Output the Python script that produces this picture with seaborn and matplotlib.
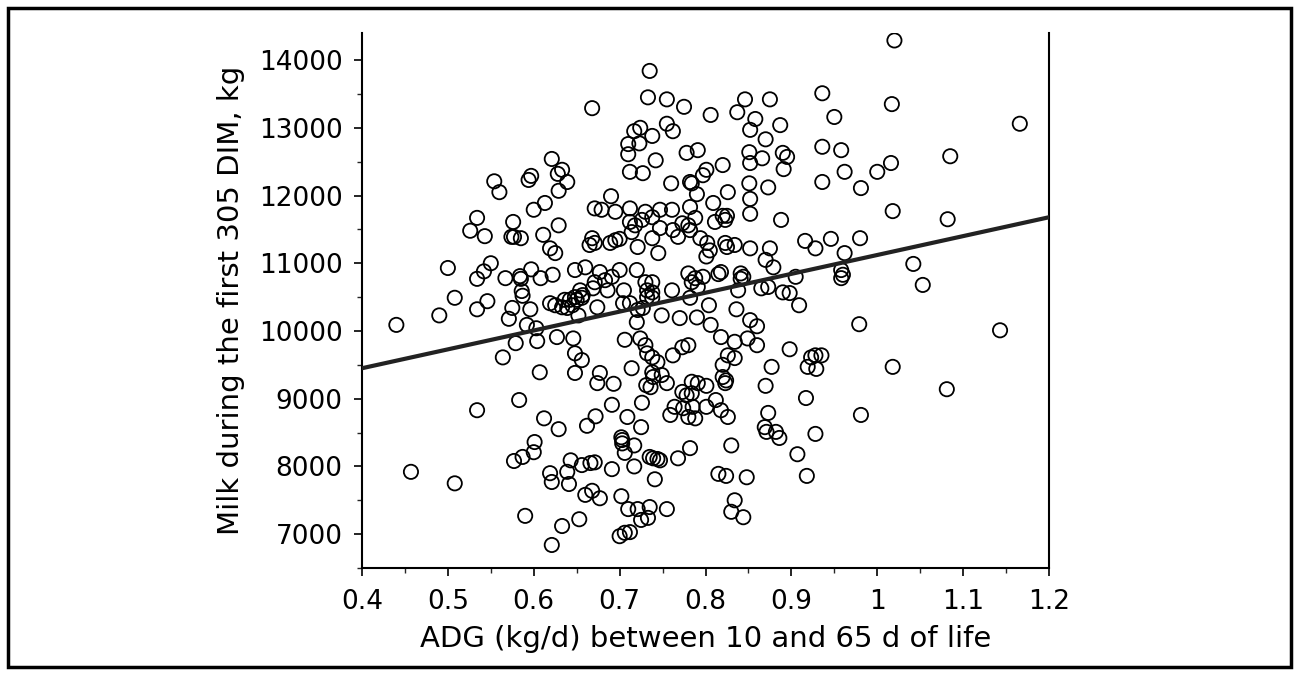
import numpy as np
import pandas as pd
import matplotlib
matplotlib.use("Agg")
import matplotlib.pyplot as plt
from matplotlib.ticker import MultipleLocator
from matplotlib.patches import Rectangle
import seaborn as sns

# ADG (kg/d) between 10 and 65 d of life
adg = [
    0.440, 0.457, 0.490, 0.500, 0.508, 0.508, 0.534, 0.526, 0.543, 0.550,
    0.542, 0.534, 0.546, 0.534, 0.534, 0.554, 0.560, 0.576, 0.574, 0.577,
    0.585, 0.567, 0.584, 0.585, 0.597, 0.608, 0.586, 0.587, 0.575, 0.596,
    0.571, 0.592, 0.603, 0.579, 0.604, 0.564, 0.607, 0.583, 0.612, 0.601,
    0.600, 0.587, 0.577, 0.590, 0.594, 0.597, 0.600,
    0.735, 0.733, 0.755, 0.775, 0.806, 0.668, 0.717, 0.724, 0.738, 0.755,
    0.762, 0.710, 0.723, 0.710, 0.742, 0.778, 0.791, 0.621, 0.633, 0.628,
    0.639, 0.629, 0.613, 0.712, 0.727, 0.760, 0.782, 0.784, 0.797, 0.801,
    0.790, 0.809, 0.690, 0.671, 0.679, 0.712, 0.695, 0.730, 0.747, 0.761,
    0.782,
    0.936, 0.846, 0.875, 0.837, 0.858, 0.852, 0.887, 0.950, 0.870, 0.936,
    0.958, 0.851, 0.866, 0.890, 0.895, 0.852, 0.891, 0.820, 0.962, 1.000,
    1.016, 0.851, 0.873, 0.936, 0.981, 0.826, 0.852, 0.825, 0.852, 0.888,
    1.017, 1.020, 1.166, 1.085, 1.018, 1.082,
    0.629, 0.611, 0.668, 0.671, 0.665, 0.689, 0.695, 0.700, 0.712, 0.718,
    0.726, 0.738, 0.747, 0.714, 0.721, 0.738, 0.745, 0.762, 0.768, 0.773,
    0.780, 0.782, 0.788, 0.794, 0.802, 0.805, 0.801, 0.619, 0.625, 0.622,
    0.648, 0.660, 0.677, 0.683, 0.671, 0.691, 0.700, 0.720, 0.730, 0.738,
    0.732, 0.738, 0.705, 0.686, 0.669, 0.654, 0.657, 0.648, 0.642, 0.761,
    0.780, 0.788, 0.797, 0.784, 0.791, 0.782, 0.804, 0.619, 0.625, 0.633,
    0.639, 0.645, 0.636, 0.650, 0.656, 0.674, 0.704, 0.712, 0.732, 0.738,
    0.721, 0.727, 0.652, 0.720, 0.749, 0.770, 0.790, 0.806, 0.627, 0.646,
    0.648, 0.656, 0.706, 0.724, 0.730, 0.732, 0.738, 0.744, 0.773, 0.780,
    0.762, 0.648, 0.677, 0.674, 0.693, 0.714, 0.738, 0.739, 0.749, 0.755,
    0.731, 0.736, 0.784, 0.791, 0.801,
    0.773, 0.778, 0.784, 0.764, 0.759, 0.774, 0.785, 0.780, 0.788, 0.801,
    0.629, 0.662, 0.672, 0.691, 0.709, 0.726, 0.725, 0.702, 0.703, 0.703,
    0.706, 0.717, 0.643, 0.639, 0.656, 0.666, 0.671, 0.691, 0.717, 0.735,
    0.739, 0.744, 0.747, 0.741, 0.619, 0.621, 0.641, 0.768, 0.782, 0.660,
    0.668, 0.677, 0.702, 0.710, 0.721, 0.735, 0.755, 0.725, 0.733, 0.633,
    0.653, 0.700, 0.706, 0.712, 0.621,
    0.811, 0.823, 0.820, 0.823, 0.825, 0.834, 0.852, 0.875, 0.870, 0.879,
    0.916, 0.928, 0.946, 0.980, 0.962, 0.958, 0.960, 0.958, 0.818, 0.815,
    0.841, 0.844, 0.841, 0.905, 0.865, 0.873, 0.890, 0.898, 0.838, 0.909,
    0.836, 0.852, 0.860, 0.818, 0.834, 0.849, 0.860, 0.979, 0.898, 0.826,
    0.834, 0.923, 0.928, 0.935, 0.919, 0.929, 0.877, 0.820, 0.820, 0.824,
    0.823, 0.870, 1.018, 1.042, 1.053, 1.143, 1.081,
    0.812, 0.818, 0.826, 0.873, 0.869, 0.871, 0.882, 0.886, 0.917, 0.928,
    0.981, 0.830, 0.907, 0.815, 0.824, 0.848, 0.918, 0.834, 0.830, 0.844,
]

# Milk during the first 305 DIM, kg
milk = [
    10090, 7920, 10230, 10930, 10490, 7750, 11670, 11480, 11400, 11000,
    10880, 10770, 10440, 10320, 8830, 12210, 12050, 11610, 11390, 11390,
    11370, 10780, 10810, 10770, 10910, 10780, 10590, 10520, 10340, 10320,
    10180, 10090, 10040, 9820, 9850, 9610, 9390, 8980, 8710, 8360,
    8210, 8140, 8080, 7270, 12230, 12290, 11790,
    13840, 13450, 13420, 13310, 13190, 13290, 12950, 13000, 12880, 13060,
    12950, 12760, 12770, 12610, 12520, 12630, 12670, 12540, 12380, 12320,
    12200, 12070, 11890, 12350, 12330, 12180, 12200, 12180, 12300, 12380,
    12020, 11890, 11990, 11810, 11790, 11810, 11760, 11760, 11790, 11790,
    11830,
    13510, 13420, 13420, 13230, 13130, 12970, 13040, 13160, 12830, 12720,
    12670, 12640, 12550, 12630, 12570, 12480, 12390, 12450, 12350, 12350,
    12480, 12180, 12120, 12200, 12110, 12050, 11950, 11700, 11730, 11640,
    13350, 14290, 13060, 12580, 11770, 11650,
    11560, 11420, 11370, 11300, 11270, 11300, 11340, 11360, 11610, 11560,
    11640, 11680, 11520, 11460, 11240, 11370, 11150, 11490, 11390, 11590,
    11560, 11490, 11670, 11370, 11300, 11190, 11100, 11220, 11150, 10830,
    10900, 10940, 10870, 10750, 10720, 10800, 10900, 10900, 10720, 10720,
    10600, 10570, 10600, 10600, 10630, 10600, 10530, 10500, 10460, 10600,
    10850, 10780, 10800, 10720, 10650, 10490, 10380, 10410, 10380, 10350,
    10340, 10380, 10460, 10460, 10490, 10350, 10410, 10410, 10500, 10490,
    10310, 10340, 10230, 10130, 10230, 10190, 10200, 10090, 9910, 9890,
    9670, 9570, 9870, 9890, 9790, 9670, 9610, 9540, 9760, 9790,
    9640, 9380, 9380, 9230, 9220, 9450, 9390, 9320, 9350, 9230,
    9200, 9170, 9250, 9230, 9190,
    9100, 9050, 9080, 8880, 8760, 8860, 8880, 8730, 8710, 8880,
    8550, 8600, 8740, 8910, 8730, 8940, 8580, 8430, 8390, 8340,
    8200, 8310, 8090, 7920, 8020, 8050, 8060, 7960, 8000, 8140,
    8120, 8110, 8090, 7810, 7900, 7770, 7740, 8120, 8270, 7580,
    7640, 7530, 7560, 7370, 7370, 7400, 7370, 7210, 7240, 7120,
    7220, 6970, 7020, 7030, 6840,
    11610, 11640, 11700, 11300, 11240, 11270, 11220, 11220, 11050, 10940,
    11330, 11220, 11360, 11370, 11150, 10900, 10830, 10780, 10870, 10840,
    10850, 10800, 10770, 10800, 10630, 10650, 10570, 10560, 10600, 10380,
    10320, 10160, 10070, 9910, 9840, 9890, 9790, 10100, 9730, 9640,
    9600, 9610, 9640, 9640, 9470, 9440, 9470, 9500, 9320, 9270,
    9230, 9190, 9470, 10990, 10680, 10010, 9140,
    8980, 8830, 8730, 8790, 8580, 8510, 8510, 8420, 9010, 8480,
    8760, 8310, 8180, 7890, 7860, 7840, 7860, 7500, 7330, 7250,
]

# fitted regression line: milk = intercept + slope * ADG
fit_intercept = 8335
fit_slope = 2787

x_ticks = [0.4, 0.5, 0.6, 0.7, 0.8, 0.9, 1.0, 1.1, 1.2]
x_tick_labels = ["0.4", "0.5", "0.6", "0.7", "0.8", "0.9", "1", "1.1", "1.2"]
y_ticks = [7000, 8000, 9000, 10000, 11000, 12000, 13000, 14000]

df = pd.DataFrame({"adg": adg, "milk": milk})

sns.set_style("ticks")
plt.rcParams["font.family"] = ["DejaVu Sans"]
plt.rcParams["text.color"] = "black"
plt.rcParams["axes.labelcolor"] = "black"

fig = plt.figure(figsize=(12.99, 6.75), dpi=100)
ax = fig.add_axes([362 / 1299, 1 - 568 / 675, (1049 - 362) / 1299, (568 - 33) / 675])

sns.scatterplot(data=df, x="adg", y="milk", ax=ax, marker="o", s=105,
                facecolors="none", edgecolor="black", linewidth=1.3,
                legend=False, zorder=3)

xline = np.array([0.4, 1.2])
ax.plot(xline, fit_intercept + fit_slope * xline, color="#222222", lw=3.0, zorder=4)

ax.set_xlim(0.4, 1.2)
ax.set_ylim(6500, 14400)
ax.set_xticks(x_ticks)
ax.set_xticklabels(x_tick_labels)
ax.set_yticks(y_ticks)
ax.xaxis.set_minor_locator(MultipleLocator(0.05))
ax.yaxis.set_minor_locator(MultipleLocator(500))
ax.tick_params(axis="both", which="major", direction="out", length=6, width=1.2,
               colors="black")
ax.tick_params(axis="x", which="major", labelsize=19, pad=9)
ax.tick_params(axis="y", which="major", labelsize=19, pad=8)
ax.tick_params(axis="both", which="minor", direction="out", length=3.5, width=1.0)
for side in ["left", "bottom", "right", "top"]:
    ax.spines[side].set_linewidth(1.5)
    ax.spines[side].set_color("black")
ax.spines["top"].set_visible(False)

ax.set_xlabel("ADG (kg/d) between 10 and 65 d of life", fontsize=21, labelpad=7)
ax.set_ylabel("Milk during the first 305 DIM, kg", fontsize=21, labelpad=10)

fig.patches.append(Rectangle((8 / 1299, 8 / 675), 1 - 16 / 1299, 1 - 16 / 675,
                             transform=fig.transFigure, fill=False,
                             edgecolor="black", linewidth=2.5))

fig.savefig("out.png", dpi=100)
